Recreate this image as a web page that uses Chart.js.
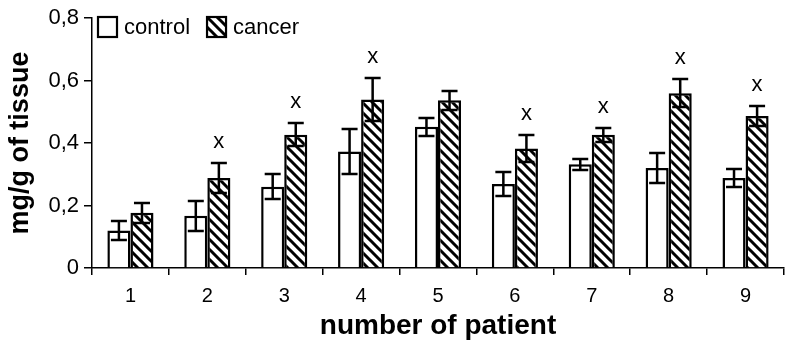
<!DOCTYPE html>
<html>
<head>
<meta charset="utf-8">
<script src="https://cdn.jsdelivr.net/npm/chart.js@4.4.0/dist/chart.umd.min.js"></script>
<style>
  html, body { margin: 0; padding: 0; background: #fff; }
</style>
</head>
<body>
<canvas id="c" width="786" height="351"></canvas>
<script>
var patients = ['1', '2', '3', '4', '5', '6', '7', '8', '9'];
var control = [0.12, 0.167, 0.26, 0.373, 0.452, 0.269, 0.332, 0.32, 0.288];
var controlErr = [0.03, 0.048, 0.04, 0.072, 0.028, 0.04, 0.018, 0.049, 0.03];
var cancer = [0.177, 0.288, 0.427, 0.54, 0.537, 0.383, 0.427, 0.56, 0.487];
var cancerErr = [0.032, 0.047, 0.037, 0.07, 0.03, 0.044, 0.022, 0.045, 0.033];
var signif = [false, true, true, true, false, true, true, true, true];

var font = '"Liberation Sans", Arial, Helvetica, sans-serif';

function hatch() {
  var c = document.createElement('canvas');
  c.width = 10; c.height = 10;
  var g = c.getContext('2d');
  g.fillStyle = '#fff';
  g.fillRect(0, 0, 10, 10);
  g.strokeStyle = '#000';
  g.lineWidth = 3;
  g.beginPath();
  g.moveTo(-5, -5); g.lineTo(15, 15);
  g.moveTo(-5, 5); g.lineTo(5, 15);
  g.moveTo(5, -5); g.lineTo(15, 5);
  g.stroke();
  return g.createPattern(c, 'repeat');
}

// error bars + "x" significance marks
var errorBars = {
  id: 'errorBars',
  afterDatasetsDraw: function (chart) {
    var ctx = chart.ctx;
    var y = chart.scales.y;
    var errs = [controlErr, cancerErr];
    ctx.save();
    ctx.strokeStyle = '#000';
    ctx.lineWidth = 2.5;
    chart.data.datasets.forEach(function (ds, di) {
      chart.getDatasetMeta(di).data.forEach(function (el, i) {
        var v = ds.data[i], e = errs[di][i];
        var top = Math.round(y.getPixelForValue(v + e)), bot = Math.round(y.getPixelForValue(v - e));
        ctx.beginPath();
        ctx.moveTo(el.x, top); ctx.lineTo(el.x, bot);
        ctx.moveTo(el.x - 8, top); ctx.lineTo(el.x + 8, top);
        ctx.moveTo(el.x - 8, bot); ctx.lineTo(el.x + 8, bot);
        ctx.stroke();
        if (di == 1 && signif[i]) {
          ctx.fillStyle = '#000';
          ctx.font = '22px ' + font;
          ctx.textAlign = 'center';
          ctx.textBaseline = 'alphabetic';
          ctx.fillText('x', el.x, top - 15);
        }
      });
    });
    ctx.restore();
  }
};

// legend drawn inside the plot, top left
var boxLegend = {
  id: 'boxLegend',
  afterDraw: function (chart) {
    var ctx = chart.ctx;
    var a = chart.chartArea;
    var x = a.left + 6, y = 17;
    ctx.save();
    ctx.font = '22px ' + font;
    ctx.textBaseline = 'middle';
    ctx.textAlign = 'left';
    chart.data.datasets.forEach(function (ds) {
      ctx.fillStyle = ds.backgroundColor;
      ctx.fillRect(x, y, 19, 20);
      ctx.strokeStyle = '#000';
      ctx.lineWidth = 2.2;
      ctx.strokeRect(x, y, 19, 20);
      ctx.fillStyle = '#000';
      ctx.fillText(ds.label, x + 26, y + 11);
      x += 26 + ctx.measureText(ds.label).width + 17;
    });
    ctx.restore();
  }
};

new Chart(document.getElementById('c'), {
  type: 'bar',
  data: {
    labels: patients,
    datasets: [{
      label: 'control',
      data: control,
      backgroundColor: '#fff',
      borderColor: '#000',
      borderWidth: 2.5,
      categoryPercentage: 0.6,
      barPercentage: 1
    }, {
      label: 'cancer',
      data: cancer,
      backgroundColor: hatch(),
      borderColor: '#000',
      borderWidth: 2.5,
      categoryPercentage: 0.6,
      barPercentage: 1
    }]
  },
  options: {
    responsive: false,
    animation: false,
    layout: { padding: { top: 15, right: 2, left: 0, bottom: 0 } },
    plugins: {
      tooltip: { enabled: false },
      legend: { display: false }
    },
    scales: {
      x: {
        offset: true,
        afterFit: function (s) { s.height = 83; },
        grid: { display: true, offset: true, drawOnChartArea: false, tickLength: 7, color: '#000', lineWidth: 1.5 },
        border: { color: '#000', width: 1.5 },
        ticks: { color: '#000', font: { family: font, size: 20 }, padding: 9 },
        title: { display: true, text: 'number of patient', color: '#000', font: { family: font, size: 28, weight: 'bold' }, padding: { bottom: 8 } }
      },
      y: {
        min: 0, max: 0.8,
        afterFit: function (s) { s.width = 92; },
        grid: { display: true, drawOnChartArea: false, tickLength: 8, color: '#000', lineWidth: 1.5 },
        border: { color: '#000', width: 1.5 },
        ticks: {
          stepSize: 0.2, color: '#000', font: { family: font, size: 22 }, padding: 5,
          callback: function (v) { return v == 0 ? '0' : v.toFixed(1).replace('.', ','); }
        },
        title: { display: true, text: 'mg/g of tissue', color: '#000', font: { family: font, size: 27, weight: 'bold' }, padding: { top: 4 } }
      }
    }
  },
  plugins: [errorBars, boxLegend]
});
</script>
</body>
</html>
